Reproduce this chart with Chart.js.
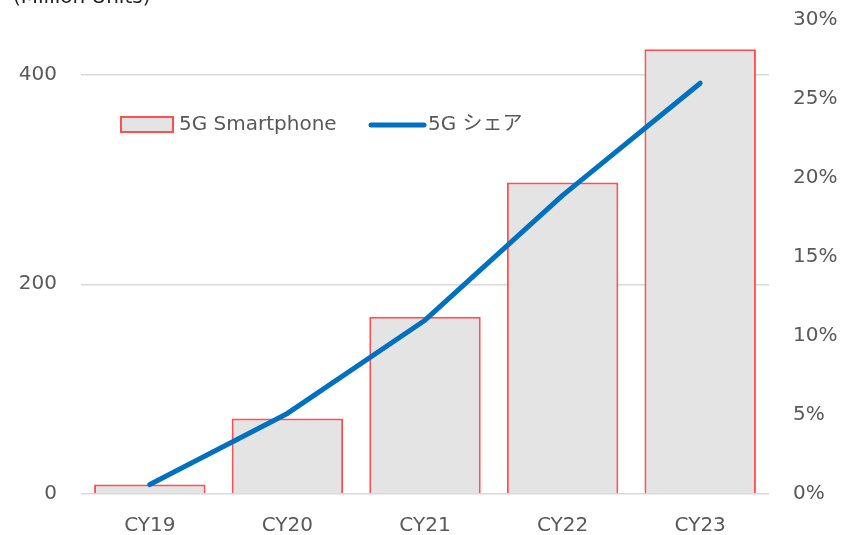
<!DOCTYPE html>
<html>
<head>
<meta charset="utf-8">
<script src="https://cdn.jsdelivr.net/npm/chart.js@4"></script>
<style>
  html, body { margin: 0; padding: 0; background: #fff; }
  #wrap { position: relative; width: 843px; height: 535px; overflow: hidden; }
</style>
</head>
<body>
<div id="wrap"><canvas id="chart" width="843" height="535"></canvas></div>
<script>
// data
const years = ['CY19', 'CY20', 'CY21', 'CY22', 'CY23'];
const units = [9, 72, 169, 297, 424];          // 5G smartphone, million units
const share = [0.6, 5.1, 11.0, 18.9, 26.0];    // 5G share, %
const unitTicks = [0, 200, 400];
const barLabel = '5G Smartphone';
const lineLabel = '5G シェア';
const unitTitle = '(Million Units)';

const FONT = '"DejaVu Sans", "Noto Sans CJK JP", sans-serif';
const GREY = '#595959';

// legend + unit title drawn inside the plot like the original
const legendInside = {
  id: 'legendInside',
  afterDraw(chart) {
    const c = chart.ctx;
    const a = chart.chartArea;
    c.save();
    c.font = '20px ' + FONT;
    c.textBaseline = 'middle';
    // bar sample
    const bx = a.left + 40, by = a.top + 97;
    c.fillStyle = '#e4e4e4';
    c.fillRect(bx, by, 52, 15);
    c.strokeStyle = '#ff5050';
    c.lineWidth = 2;
    c.strokeRect(bx, by, 52, 15);
    c.fillStyle = GREY;
    c.fillText(barLabel, bx + 58, by + 8);
    // line sample
    const lx = a.left + 290, ly = by + 8;
    c.strokeStyle = '#0070c0';
    c.lineWidth = 5;
    c.lineCap = 'round';
    c.beginPath();
    c.moveTo(lx, ly);
    c.lineTo(lx + 53, ly);
    c.stroke();
    c.fillText(lineLabel, lx + 57, ly);
    // unit title, cut off at the top
    c.fillStyle = '#222';
    c.textBaseline = 'alphabetic';
    c.fillText(unitTitle, 13, 3);
    c.restore();
  }
};

// keep tick labels from pushing the plot area around
function noPad(s) {
  s.paddingTop = 0;
  s.paddingBottom = 0;
}

const ctx = document.getElementById('chart').getContext('2d');
const myChart = new Chart(ctx, {
  data: {
    labels: years,
    datasets: [
      {
        type: 'line',
        label: lineLabel,
        data: share,
        yAxisID: 'y1',
        borderColor: '#0070c0',
        borderWidth: 5,
        borderCapStyle: 'round',
        borderJoinStyle: 'round',
        pointRadius: 0,
        tension: 0,
        order: 0
      },
      {
        type: 'bar',
        label: barLabel,
        data: units,
        yAxisID: 'y',
        backgroundColor: '#e4e4e4',
        borderColor: '#ff5050',
        borderWidth: 2,
        categoryPercentage: 1,
        barPercentage: 0.81,
        order: 1
      }
    ]
  },
  options: {
    responsive: false,
    animation: false,
    layout: { padding: { top: 20, left: 0, right: 0, bottom: 0 } },
    plugins: {
      legend: { display: false },
      tooltip: { enabled: false }
    },
    scales: {
      x: {
        grid: { display: false, drawTicks: false },
        border: { display: false },
        ticks: { color: GREY, font: { family: FONT, size: 20 }, padding: 20 },
        afterFit(s) { s.height = 41; }
      },
      y: {
        position: 'left',
        min: 0,
        max: 452,
        afterBuildTicks(s) { s.ticks = unitTicks.map(v => ({ value: v })); },
        grid: { color: '#d9d9d9', lineWidth: 1.5, drawTicks: false },
        border: { display: false },
        ticks: { color: GREY, font: { family: FONT, size: 20 }, padding: 24 },
        afterFit(s) { s.width = 81; noPad(s); }
      },
      y1: {
        position: 'right',
        min: 0,
        max: 30,
        grid: { display: false, drawTicks: false },
        border: { display: false },
        ticks: {
          stepSize: 5,
          color: GREY,
          font: { family: FONT, size: 20 },
          padding: 24,
          callback: v => v + '%'
        },
        afterFit(s) { s.width = 74; noPad(s); }
      }
    }
  },
  plugins: [legendInside]
});
</script>
</body>
</html>
